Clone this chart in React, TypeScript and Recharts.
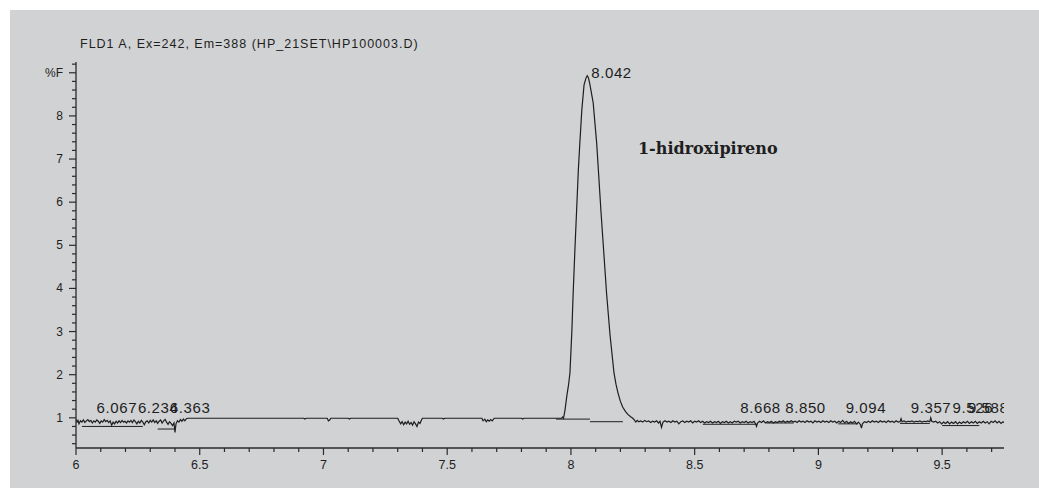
import React from 'react';
import { ComposedChart, Line, Scatter, XAxis, YAxis } from 'recharts';

// Chromatogram trace: [retention time (min), %F]
const signal: [number, number][] = [
  [6.000,0.96],[6.004,0.90],[6.008,0.94],[6.012,0.86],[6.018,0.93],[6.024,0.90],[6.030,0.95],[6.036,0.89],
  [6.042,0.93],[6.048,0.96],[6.054,0.91],[6.060,0.94],[6.066,0.88],[6.072,0.93],[6.078,0.90],[6.084,0.95],
  [6.090,0.92],[6.096,0.87],[6.102,0.93],[6.108,0.90],[6.114,0.96],[6.120,0.91],[6.126,0.94],[6.132,0.89],
  [6.138,0.93],[6.144,0.83],[6.150,0.90],[6.156,0.86],[6.162,0.92],[6.168,0.88],[6.174,0.93],[6.180,0.89],
  [6.186,0.94],[6.192,0.90],[6.198,0.92],[6.204,0.88],[6.210,0.93],[6.216,0.90],[6.222,0.94],[6.228,0.89],
  [6.234,0.95],[6.240,0.91],[6.246,0.86],[6.252,0.92],[6.258,0.88],[6.264,0.94],[6.270,0.90],[6.276,0.84],
  [6.282,0.91],[6.288,0.93],[6.294,0.88],[6.300,0.94],[6.306,0.90],[6.312,0.95],[6.318,0.89],[6.324,0.93],
  [6.330,0.87],[6.336,0.92],[6.342,0.95],[6.348,0.88],[6.354,0.93],[6.360,0.96],[6.366,0.90],[6.372,0.85],
  [6.378,0.91],[6.384,0.87],[6.390,0.82],[6.396,0.88],[6.400,0.66],[6.404,0.86],[6.410,0.93],[6.416,0.90],
  [6.422,0.96],[6.428,0.92],[6.434,0.97],[6.440,0.93],[6.446,0.98],[6.452,0.99],
  [6.920,0.99],[6.925,0.97],[6.930,0.99],[7.015,0.99],[7.020,0.93],[7.025,0.95],[7.030,0.99],
  [7.100,0.99],[7.105,0.97],[7.110,0.99],[7.300,0.99],[7.305,0.93],[7.312,0.86],[7.318,0.91],[7.324,0.84],
  [7.330,0.90],[7.336,0.86],[7.342,0.92],[7.348,0.85],[7.354,0.89],[7.360,0.83],[7.366,0.91],[7.372,0.86],
  [7.378,0.80],[7.384,0.90],[7.390,0.87],[7.396,0.95],[7.400,0.99],[7.480,0.99],[7.485,0.97],[7.490,0.99],
  [7.640,0.99],[7.645,0.93],[7.652,0.97],[7.658,0.91],[7.664,0.95],[7.670,0.92],[7.676,0.96],[7.682,0.93],
  [7.690,0.99],[7.800,0.99],[7.805,0.97],[7.810,0.99],[7.962,0.99],[7.966,1.02],[7.970,0.99],[7.976,1.18],
  [7.984,1.53],[7.990,1.75],[7.996,2.04],[8.004,3.04],[8.009,3.89],[8.016,4.89],[8.023,5.82],[8.030,6.75],
  [8.036,7.37],[8.044,8.14],[8.053,8.72],[8.061,8.88],[8.066,8.93],[8.071,8.88],[8.077,8.72],[8.090,8.30],
  [8.104,7.37],[8.121,5.82],[8.144,3.89],[8.158,2.92],[8.174,2.04],[8.182,1.78],[8.190,1.58],[8.200,1.38],
  [8.209,1.25],[8.220,1.15],[8.230,1.08],[8.240,1.03],[8.250,0.99],
  [8.256,0.95],[8.262,0.90],[8.268,0.94],[8.274,0.91],[8.282,0.93],[8.290,0.90],[8.298,0.94],[8.306,0.91],
  [8.314,0.93],[8.322,0.89],[8.330,0.92],[8.338,0.90],[8.346,0.93],[8.354,0.88],[8.360,0.92],[8.366,0.78],
  [8.372,0.90],[8.380,0.93],[8.388,0.90],[8.396,0.92],[8.404,0.89],[8.412,0.93],[8.420,0.90],[8.428,0.92],
  [8.436,0.86],[8.444,0.91],[8.452,0.93],[8.460,0.89],[8.468,0.92],[8.476,0.90],[8.484,0.93],[8.492,0.88],
  [8.500,0.92],[8.508,0.90],[8.516,0.93],[8.524,0.89],[8.532,0.92],[8.540,0.88],[8.548,0.91],[8.556,0.89],
  [8.564,0.92],[8.572,0.88],[8.580,0.91],[8.588,0.89],[8.596,0.92],[8.604,0.87],[8.612,0.91],[8.620,0.89],
  [8.628,0.92],[8.636,0.88],[8.644,0.91],[8.652,0.88],[8.660,0.92],[8.668,0.90],[8.676,0.92],[8.684,0.88],
  [8.692,0.91],[8.700,0.89],[8.708,0.92],[8.716,0.88],[8.724,0.91],[8.732,0.89],[8.740,0.92],[8.746,0.86],
  [8.750,0.80],[8.754,0.88],[8.762,0.92],[8.770,0.89],[8.778,0.93],[8.786,0.88],[8.794,0.91],[8.802,0.89],
  [8.810,0.92],[8.818,0.88],[8.826,0.91],[8.834,0.89],[8.842,0.92],[8.850,0.90],[8.858,0.93],[8.866,0.89],
  [8.874,0.92],[8.882,0.90],[8.890,0.93],[8.898,0.90],[8.906,0.92],[8.914,0.89],[8.922,0.93],[8.930,0.90],
  [8.938,0.92],[8.946,0.89],[8.954,0.93],[8.962,0.90],[8.970,0.92],[8.978,0.88],[8.986,0.93],[8.994,0.90],
  [9.002,0.92],[9.010,0.89],[9.018,0.93],[9.026,0.90],[9.034,0.92],[9.042,0.89],[9.050,0.93],[9.058,0.90],
  [9.066,0.92],[9.074,0.88],[9.082,0.92],[9.090,0.89],[9.098,0.94],[9.106,0.88],[9.114,0.92],[9.122,0.87],
  [9.130,0.91],[9.138,0.88],[9.146,0.92],[9.154,0.86],[9.162,0.90],[9.170,0.84],[9.174,0.76],[9.178,0.86],
  [9.186,0.91],[9.194,0.89],[9.202,0.92],[9.210,0.89],[9.218,0.93],[9.226,0.90],[9.234,0.92],[9.242,0.89],
  [9.250,0.93],[9.258,0.90],[9.266,0.92],[9.274,0.89],[9.282,0.93],[9.290,0.90],[9.298,0.92],[9.306,0.89],
  [9.314,0.93],[9.322,0.90],[9.330,0.91],[9.334,0.98],[9.338,0.91],[9.346,0.93],[9.354,0.90],[9.362,0.92],
  [9.370,0.91],[9.378,0.93],[9.386,0.90],[9.394,0.92],[9.402,0.91],[9.410,0.93],[9.418,0.90],[9.426,0.92],
  [9.434,0.91],[9.442,0.93],[9.450,0.91],[9.454,1.00],[9.458,0.92],[9.466,0.90],[9.474,0.92],[9.482,0.88],
  [9.490,0.91],[9.498,0.86],[9.506,0.90],[9.514,0.87],[9.522,0.91],[9.530,0.86],[9.538,0.90],[9.546,0.87],
  [9.554,0.91],[9.562,0.86],[9.570,0.90],[9.578,0.87],[9.586,0.91],[9.594,0.88],[9.602,0.92],[9.610,0.87],
  [9.618,0.91],[9.626,0.88],[9.634,0.92],[9.642,0.87],[9.650,0.91],[9.658,0.88],[9.666,0.92],[9.674,0.88],
  [9.682,0.91],[9.690,0.86],[9.698,0.92],[9.706,0.89],[9.714,0.93],[9.722,0.88],[9.730,0.92],[9.738,0.87],
  [9.746,0.91],[9.750,0.89],
];

// Integration baselines: [start, end, level]
const integrationBaselines: [number, number, number][] = [
  [6.024, 6.270, 0.80],
  [6.330, 6.400, 0.74],
  [7.940, 8.077, 0.97],
  [8.077, 8.210, 0.91],
  [8.533, 8.750, 0.85],
  [8.790, 8.900, 0.88],
  [9.080, 9.160, 0.86],
  [9.330, 9.450, 0.87],
  [9.500, 9.650, 0.82],
];

// Peak retention-time labels
const peakLabels = ['6.067', '6.234', '6.363', '8.042', '8.668', '8.850', '9.094', '9.357', '9.526', '9.588'];
const peakLabelX = [6.067, 6.234, 6.363, 8.066, 8.668, 8.850, 9.094, 9.357, 9.526, 9.588];
const peakLabelV = [1.12, 1.12, 1.12, 8.88, 1.12, 1.12, 1.12, 1.12, 1.12, 1.12];

const compoundName = ['1-hidroxipireno'];
const compoundX = [8.271];
const compoundV = [7.12];

const chartTitle = 'FLD1 A, Ex=242, Em=388 (HP_21SET\\HP100003.D)';

const xDomain = [6, 9.75];
const yDomain = [0.3, 9.25];
const xTicks = [6, 6.1, 6.2, 6.3, 6.4, 6.5, 6.6, 6.7, 6.8, 6.9, 7, 7.1, 7.2, 7.3, 7.4, 7.5, 7.6, 7.7, 7.8, 7.9,
  8, 8.1, 8.2, 8.3, 8.4, 8.5, 8.6, 8.7, 8.8, 8.9, 9, 9.1, 9.2, 9.3, 9.4, 9.5, 9.6, 9.7];
const xMajorTicks = [6, 6.5, 7, 7.5, 8, 8.5, 9, 9.5];
const xMajorLabels = ['6', '6.5', '7', '7.5', '8', '8.5', '9', '9.5'];
const yTicks = [0.4, 0.6, 0.8, 1, 1.2, 1.4, 1.6, 1.8, 2, 2.2, 2.4, 2.6, 2.8, 3, 3.2, 3.4, 3.6, 3.8, 4, 4.2, 4.4, 4.6,
  4.8, 5, 5.2, 5.4, 5.6, 5.8, 6, 6.2, 6.4, 6.6, 6.8, 7, 7.2, 7.4, 7.6, 7.8, 8, 8.2, 8.4, 8.6, 8.8, 9, 9.2];
const yMajorTicks = [1, 2, 3, 4, 5, 6, 7, 8, 9];
const yMajorLabels = ['1', '2', '3', '4', '5', '6', '7', '8', '%F'];

const INK = '#1e1e1e';
const AXIS = '#2a2a2a';
const BG = '#d1d2d4';
const SANS = '"Liberation Sans", Arial, sans-serif';

const signalData = signal.map(([t, v]) => ({ t, v }));
const baselineData: { t: number; v: number | null }[] = [];
integrationBaselines.forEach(([a, b, lvl]) => {
  baselineData.push({ t: a, v: lvl });
  baselineData.push({ t: b, v: lvl });
  baselineData.push({ t: b, v: null });
});
const labelData = peakLabels.map((text, i) => ({ t: peakLabelX[i], v: peakLabelV[i], text }));
const compoundData = compoundName.map((text, i) => ({ t: compoundX[i], v: compoundV[i], text }));

const majorIndex = (v: number, majors: number[]) => majors.findIndex((m) => Math.abs(m - v) < 1e-6);

const XTick = (props: any) => {
  const { x, y, payload } = props;
  const idx = majorIndex(payload.value, xMajorTicks);
  const major = idx >= 0;
  return (
    <g>
      <line x1={x} y1={y} x2={x} y2={y + (major ? 7 : 4)} stroke={AXIS} strokeWidth={1.2} />
      {major && (
        <text x={x} y={y + 21} textAnchor="middle" fontSize={12.5} fontFamily={SANS} fill={INK}>
          {xMajorLabels[idx]}
        </text>
      )}
    </g>
  );
};

const YTick = (props: any) => {
  const { x, y, payload } = props;
  const idx = majorIndex(payload.value, yMajorTicks);
  const major = idx >= 0;
  return (
    <g>
      <line x1={x} y1={y} x2={x - (major ? 7 : 4)} y2={y} stroke={AXIS} strokeWidth={1.2} />
      {major && (
        <text x={x - 13} y={y + 4} textAnchor="end" fontSize={12} fontFamily={SANS} fill={INK}>
          {yMajorLabels[idx]}
        </text>
      )}
    </g>
  );
};

const PeakLabelShape = (props: any) => {
  const { cx, cy, payload } = props;
  return (
    <text x={cx + 4} y={cy} fontSize={15} letterSpacing={0.6} fontFamily={SANS} fill={INK}>
      {payload.text}
    </text>
  );
};

const CompoundShape = (props: any) => {
  const { cx, cy, payload } = props;
  return (
    <text x={cx} y={cy} fontSize={16} fontWeight="bold" fontFamily={'"DejaVu Serif", serif'} fill={INK}>
      {payload.text}
    </text>
  );
};

export default function App() {
  return (
    <div style={{ position: 'absolute', left: 0, top: 0, width: 1039, height: 488, background: '#fff' }}>
      <div style={{ position: 'absolute', left: 10, top: 10, width: 1029, height: 478, background: BG }}>
        <div
          style={{
            position: 'absolute',
            left: 70,
            top: 27,
            fontSize: 12.5,
            lineHeight: '14px',
            letterSpacing: 1,
            fontFamily: SANS,
            color: INK,
            whiteSpace: 'nowrap',
          }}
        >
          {chartTitle}
        </div>
        <ComposedChart width={1029} height={478} margin={{ top: 52, right: 35, bottom: 0, left: 0 }}>
          <XAxis
            dataKey="t"
            type="number"
            domain={xDomain}
            ticks={xTicks}
            interval={0}
            allowDataOverflow
            height={40}
            tickSize={0}
            tickMargin={0}
            tickLine={false}
            axisLine={{ stroke: AXIS, strokeWidth: 1.3 }}
            tick={<XTick />}
          />
          <YAxis
            type="number"
            domain={yDomain}
            ticks={yTicks}
            interval={0}
            allowDataOverflow
            width={66}
            tickSize={0}
            tickMargin={0}
            tickLine={false}
            axisLine={{ stroke: AXIS, strokeWidth: 1.3 }}
            tick={<YTick />}
          />
          <Line
            data={baselineData}
            dataKey="v"
            type="linear"
            stroke={INK}
            strokeWidth={1}
            dot={false}
            activeDot={false}
            connectNulls={false}
            isAnimationActive={false}
          />
          <Line
            data={signalData}
            dataKey="v"
            type="linear"
            stroke={INK}
            strokeWidth={1.2}
            dot={false}
            activeDot={false}
            isAnimationActive={false}
          />
          <Scatter data={labelData} dataKey="v" shape={<PeakLabelShape />} isAnimationActive={false} />
          <Scatter data={compoundData} dataKey="v" shape={<CompoundShape />} isAnimationActive={false} />
        </ComposedChart>
      </div>
    </div>
  );
}
